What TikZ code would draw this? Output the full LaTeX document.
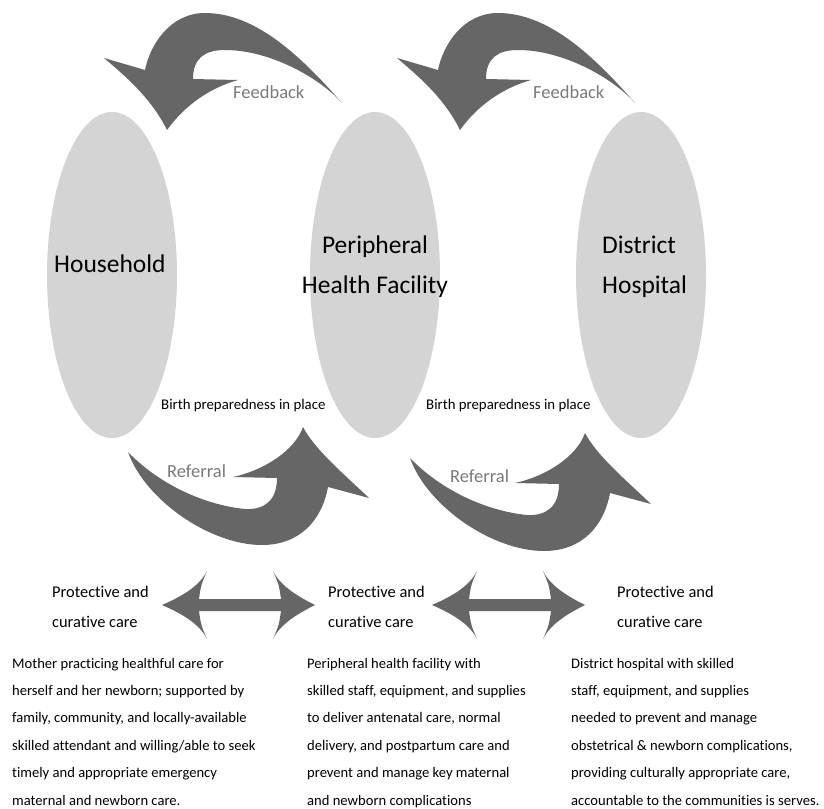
\documentclass[tikz,border=0pt]{standalone}
\usepackage{fontspec}
\setmainfont{Carlito}[Ligatures={NoCommon}]
\usetikzlibrary{shapes.geometric}
\definecolor{ellgray}{HTML}{D4D4D4}
\definecolor{arrgray}{HTML}{666666}
\definecolor{lblgray}{HTML}{7A7A7A}
\begin{document}
\begin{tikzpicture}[x=1pt,y=-1pt,
  bubble/.style={ellipse, fill=ellgray, draw=none, minimum width=130pt, minimum height=326pt, inner sep=0pt},
  title/.style={font=\fontsize{25.5}{30}\selectfont, inner sep=0pt},
  flowlbl/.style={font=\fontsize{18.5}{22}\selectfont, text=lblgray, inner sep=0pt, anchor=base west},
  birth/.style={font=\fontsize{14.8}{18}\selectfont, inner sep=0pt, anchor=base west},
  care/.style={font=\fontsize{16.4}{20}\selectfont, inner sep=0pt, anchor=base west},
  body/.style={font=\fontsize{14.6}{18}\selectfont, inner sep=0pt, anchor=base west},
  blockarrow/.style={fill=arrgray, draw=none}]
\path[use as bounding box] (0,0) rectangle (824,808);

% ellipses
\node[bubble] (hh) at (112,275) {};
\node[bubble] (phf) at (375,275) {};
\node[bubble] (dh) at (641,275) {};

% titles
\node[title, anchor=base west] (hhT) at (54,272) {Household};
\node[title, anchor=base] (phfT1) at (375,253) {Peripheral};
\node[title, anchor=base] (phfT2) at (375,293) {Health Facility};
\node[title, anchor=base west] (dhT1) at (602,253) {District};
\node[title, anchor=base west] (dhT2) at (602,293) {Hospital};

% feedback arrows
\foreach \dx/\n in {0/1,293/2}{
  \fill[blockarrow, shift={(\dx,0)}]
    (342,103) .. controls (300,55) and (255,13) .. (205,13)
    .. controls (170,13) and (150,45) .. (145,70)
    -- (104,58)
    .. controls (130,80) and (152,100) .. (167,130)
    .. controls (185,105) and (210,88) .. (238,80)
    -- (193,79)
    .. controls (193,58) and (205,50) .. (225,50)
    .. controls (270,50) and (320,78) .. (342,103) -- cycle;
}
\node[flowlbl] (fb1) at (233,98) {Feedback};
\node[flowlbl] (fb2) at (533,98) {Feedback};

% referral arrows
\foreach \dx/\dy in {0/0,282/6}{
  \fill[blockarrow, shift={(\dx,\dy)}]
    (128,452) .. controls (145,500) and (210,545) .. (262,545)
    .. controls (300,545) and (322,520) .. (328,487)
    -- (369,498)
    .. controls (345,475) and (315,450) .. (303,427)
    .. controls (295,450) and (265,470) .. (233,477)
    -- (277,478)
    .. controls (277,500) and (265,510) .. (245,509)
    .. controls (205,505) and (160,485) .. (128,452) -- cycle;
}
\node[flowlbl] (rf1) at (167,477) {Referral};
\node[flowlbl] (rf2) at (450,482) {Referral};

% birth preparedness
\node[birth] (bp1) at (161,409) {Birth preparedness in place};
\node[birth] (bp2) at (426,409) {Birth preparedness in place};

% double arrows
\foreach \dx in {0,270}{
  \fill[blockarrow, shift={(\dx,0)}]
    (162,605) .. controls (185,595) and (200,585) .. (207,571)
    .. controls (201,585) .. (199,599)
    -- (281,599)
    .. controls (279,585) .. (273,571)
    .. controls (280,585) and (295,595) .. (315,605)
    .. controls (295,615) and (280,625) .. (273,639)
    .. controls (279,625) .. (281,611)
    -- (199,611)
    .. controls (201,625) .. (207,639)
    .. controls (200,625) and (185,615) .. (162,605) -- cycle;
}

% protective and curative care
\foreach \x/\n in {52/1,328/2,617/3}{
  \node[care] (pc\n a) at (\x,597) {Protective and};
  \node[care] (pc\n b) at (\x,627) {curative care};
}

% descriptions
\foreach \t [count=\i from 0] in {Mother practicing healthful care for,
  herself and her newborn; supported by,
  {family, community, and locally-available},
  skilled attendant and willing/able to seek,
  timely and appropriate emergency,
  maternal and newborn care.}{
  \node[body] (da\i) at (12,668+27.4*\i) {\t};
}
\foreach \t [count=\i from 0] in {Peripheral health facility with,
  {skilled staff, equipment, and supplies},
  {to deliver antenatal care, normal},
  {delivery, and postpartum care and},
  prevent and manage key maternal,
  and newborn complications}{
  \node[body] (db\i) at (307,668+27.4*\i) {\t};
}
\foreach \t [count=\i from 0] in {District hospital with skilled,
  {staff, equipment, and supplies},
  needed to prevent and manage,
  {obstetrical \& newborn complications,},
  {providing culturally appropriate care,},
  {accountable to the communities is serves.}}{
  \node[body] (dc\i) at (571,668+27.4*\i) {\t};
}
\end{tikzpicture}
\end{document}
